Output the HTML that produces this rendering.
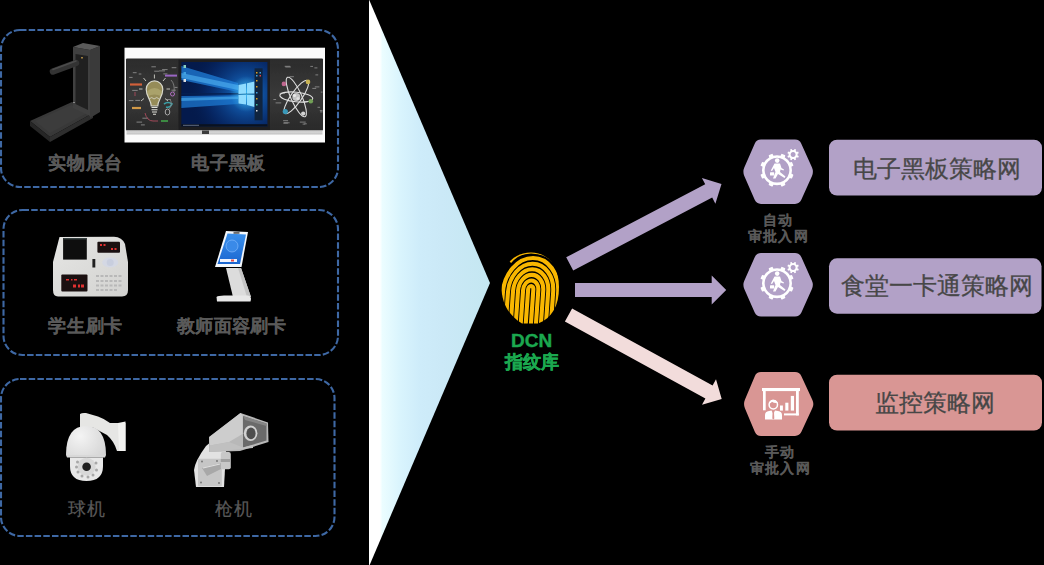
<!DOCTYPE html>
<html><head><meta charset="utf-8">
<style>
html,body{margin:0;padding:0;background:#000;}
body{width:1044px;height:565px;position:relative;overflow:hidden;font-family:"Liberation Sans",sans-serif;}
svg.main{position:absolute;left:0;top:0;}
.t{position:absolute;white-space:nowrap;line-height:1;}
.lbl{color:#595959;font-size:18px;font-weight:bold;letter-spacing:0.8px;-webkit-text-stroke:0.15px #595959;}
.sm{color:#595959;font-size:14px;font-weight:bold;text-align:center;letter-spacing:1.2px;-webkit-text-stroke:0.1px #595959;}
.big{color:#474747;font-size:24px;-webkit-text-stroke:0.3px #474747;}
.grn{color:#1ba84f;font-weight:bold;-webkit-text-stroke:0.4px #1ba84f;}
</style></head>
<body>
<svg class="main" width="1044" height="565" viewBox="0 0 1044 565">
<defs>
  <linearGradient id="tri" x1="369" y1="0" x2="490" y2="0" gradientUnits="userSpaceOnUse">
    <stop offset="0" stop-color="#ffffff"/>
    <stop offset="0.09" stop-color="#ffffff"/>
    <stop offset="0.11" stop-color="#ebfdff"/>
    <stop offset="0.26" stop-color="#d9f4fd"/>
    <stop offset="0.42" stop-color="#ceecfa"/>
    <stop offset="0.6" stop-color="#cbe9f7"/>
    <stop offset="1" stop-color="#c4e7f1"/>
  </linearGradient>

  <linearGradient id="chalk" x1="0" y1="0" x2="0" y2="1">
    <stop offset="0" stop-color="#2c2c2c"/>
    <stop offset="0.5" stop-color="#3a3a3a"/>
    <stop offset="1" stop-color="#2a2a2a"/>
  </linearGradient>
  <linearGradient id="silver" x1="0" y1="0" x2="0" y2="1">
    <stop offset="0" stop-color="#9a9a9a"/>
    <stop offset="0.4" stop-color="#d8d8d8"/>
    <stop offset="1" stop-color="#c0c0c0"/>
  </linearGradient>
  <radialGradient id="winglow" cx="246" cy="94" r="60" gradientUnits="userSpaceOnUse">
    <stop offset="0" stop-color="#2aa8f8" stop-opacity="0.9"/>
    <stop offset="0.3" stop-color="#1466c0" stop-opacity="0.65"/>
    <stop offset="0.65" stop-color="#0a3c8c" stop-opacity="0.35"/>
    <stop offset="1" stop-color="#04163e" stop-opacity="0"/>
  </radialGradient>
  <linearGradient id="readerg" x1="0" y1="0" x2="1" y2="1">
    <stop offset="0" stop-color="#e6e6e4"/>
    <stop offset="1" stop-color="#d2d2d0"/>
  </linearGradient>
  <radialGradient id="domeg" cx="80" cy="436" r="30" gradientUnits="userSpaceOnUse">
    <stop offset="0" stop-color="#f4f4f4"/>
    <stop offset="1" stop-color="#d4d4d4"/>
  </radialGradient>
  <clipPath id="clipL"><rect x="127" y="59.5" width="51.5" height="70.5"/></clipPath>
  <clipPath id="clipR"><rect x="270" y="59.5" width="52.5" height="70.5"/></clipPath>
  <radialGradient id="logoglow"><stop offset="0" stop-color="#50d0ff" stop-opacity="0.6"/><stop offset="1" stop-color="#50d0ff" stop-opacity="0"/></radialGradient>
  <linearGradient id="kscreen" x1="0" y1="0" x2="0" y2="1"><stop offset="0" stop-color="#3a90ec"/><stop offset="1" stop-color="#1a66d0"/></linearGradient>
</defs>
<!-- dashed boxes -->
<g fill="none" stroke="#3e68a4" stroke-width="2.1" stroke-dasharray="6.5 2.2">
  <rect x="1" y="30" width="337" height="157" rx="19" ry="19"/>
  <rect x="3.5" y="210" width="334.5" height="145" rx="19" ry="19"/>
  <rect x="1" y="379" width="333.5" height="157" rx="19" ry="19"/>
</g>
<!-- triangle -->
<polygon points="369,-0.5 490,283 369,566.5" fill="url(#tri)"/>
<!-- arrows -->
<polygon fill="#b2a1c7" points="573.2,270.5 712.2,197.5 715.4,203.7 721.5,184.1 701.9,178.0 705.2,184.2 566.2,257.3"/>
<polygon fill="#b2a1c7" points="575.0,297.0 711.7,297.0 711.7,304.5 726.2,290.0 711.7,275.5 711.7,283.0 575.0,283.0"/>
<polygon fill="#f2dcdb" points="564.9,321.6 705.4,398.6 702.0,404.7 721.7,399.0 716.0,379.3 712.6,385.5 572.1,308.4"/>
<!-- hexagons -->
<path fill="#b2a1c7" d="M754.7,143.7 Q756.5,139.6 761.0,139.6 L795.0,139.6 Q799.5,139.6 801.3,143.7 L812.0,167.6 Q813.8,171.8 812.0,175.9 L801.3,199.8 Q799.5,203.9 795.0,203.9 L761.0,203.9 Q756.5,203.9 754.7,199.8 L744.3,175.9 Q742.5,171.8 744.3,167.6 Z"/>
<path fill="#b2a1c7" d="M754.7,257.2 Q756.5,253.1 761.0,253.1 L795.0,253.1 Q799.5,253.1 801.4,257.2 L811.9,280.7 Q813.8,284.8 811.9,288.9 L801.4,312.4 Q799.5,316.5 795.0,316.5 L761.0,316.5 Q756.5,316.5 754.7,312.4 L744.3,288.9 Q742.5,284.8 744.3,280.7 Z"/>
<path fill="#d99694" d="M754.8,376.3 Q756.5,372.1 761.0,372.1 L795.0,372.1 Q799.5,372.1 801.4,376.2 L812.4,399.9 Q814.3,404.0 812.4,408.1 L801.4,431.8 Q799.5,435.9 795.0,435.9 L761.0,435.9 Q756.5,435.9 754.8,431.7 L744.9,408.2 Q743.2,404.0 744.9,399.8 Z"/>
<!-- rounded boxes -->
<rect x="829" y="139.7" width="213" height="55.8" rx="8" fill="#b2a1c7"/>
<rect x="829" y="258.3" width="212.5" height="55.4" rx="8" fill="#b2a1c7"/>
<rect x="829" y="374.7" width="213" height="55.8" rx="8" fill="#d99694"/>
<!-- ===== document camera ===== -->
<g id="doccam">
  <polygon points="30,121 72,102 93,113 50,137" fill="#383838"/>
  <polygon points="30,121 50,137 50,142 30,126" fill="#262626"/>
  <polygon points="50,137 93,113 93,118 50,142" fill="#2e2e2e"/>
  <polygon points="35,121 71,105 87,113 50,133" fill="#3c3c3c"/>
  <polygon points="73,47 90,50 90,116 73,108" fill="#404040"/>
  <polygon points="75.5,54 88,56 88,110 75.5,104" fill="#202020"/>
  <polygon points="90,50 100,46 100,112 90,118" fill="#3a3a3a"/>
  <polygon points="73,47 83,43 100,46 90,50" fill="#5a5a5a"/>
  <path d="M53,71.5 L76,63" stroke="#333" stroke-width="6.5" stroke-linecap="round"/>
  <path d="M53,69.5 L76,61" stroke="#4c4c4c" stroke-width="1.5" stroke-linecap="round"/>
  <rect x="81" y="57" width="2" height="1.5" fill="#a08040"/>
  <rect x="73" y="102" width="2" height="1" fill="#888"/>
</g>
<!-- ===== electronic blackboard ===== -->
<g id="board">
  <rect x="124.5" y="47.7" width="200.5" height="94.8" fill="#fbfbfb"/>
  <rect x="126" y="58.5" width="197" height="72" rx="1" fill="#2a2a2a"/>
  <rect x="127" y="59.5" width="51.5" height="70.5" fill="url(#chalk)"/>
  <rect x="270" y="59.5" width="52.5" height="70.5" fill="url(#chalk)"/>
  <rect x="126.5" y="130" width="196" height="4.5" fill="url(#silver)"/>
  <rect x="202" y="130.5" width="7" height="3.5" fill="#3a3a3a"/>
  <rect x="178.5" y="59.5" width="91.5" height="70.5" fill="#1e1e20"/>
  <rect x="181.4" y="62" width="86" height="64.4" fill="#041a4c"/>
  <rect x="181.4" y="62" width="86" height="64.4" fill="url(#winglow)"/>
  <!-- beams -->
  <polygon points="238,83 181.4,66 181.4,80 238,92" fill="#1f7ed8" opacity="0.75"/>
  <polygon points="238,85 181.4,73 181.4,78 238,90" fill="#52b4f4" opacity="0.6"/>
  <polygon points="238,95.5 181.4,96 181.4,108 238,104" fill="#1c78d0" opacity="0.75"/>
  <polygon points="238,96.5 181.4,98 181.4,101 238,99" fill="#4cb0f0" opacity="0.6"/>
  <rect x="181.4" y="93" width="73" height="1.6" fill="#062050" opacity="0.8"/>
  <ellipse cx="246.5" cy="94" rx="16" ry="18" fill="url(#logoglow)"/>
  <!-- logo -->
  <g fill="#8fdcff">
    <polygon points="238.5,85 246,83.5 246,93.5 238.5,94"/>
    <polygon points="247,83.3 254.5,81.5 254.5,93.4 247,93.5"/>
    <polygon points="238.5,95 246,95 246,104.5 238.5,103.5"/>
    <polygon points="247,95 254.5,95 254.5,107 247,105"/>
  </g>
  <!-- start menu -->
  <rect x="254.6" y="68.3" width="8" height="52" fill="#10243e"/>
  <g fill="#e0a020">
    <rect x="256" y="72" width="1.5" height="1.5"/><rect x="259.5" y="72" width="1.5" height="1.5" fill="#40a0e0"/>
    <rect x="256" y="75" width="1.5" height="1.5" fill="#40a0e0"/><rect x="259.5" y="75" width="1.5" height="1.5" fill="#e04040"/>
    <rect x="256" y="80" width="1.5" height="1.5"/><rect x="256" y="86" width="1.5" height="1.5"/>
    <rect x="256" y="92" width="1.5" height="1.5" fill="#40a0e0"/><rect x="256" y="98" width="1.5" height="1.5"/>
    <rect x="256" y="104" width="1.5" height="1.5" fill="#40c0a0"/><rect x="256" y="110" width="1.5" height="1.5" fill="#e0e0e0"/>
  </g>
  <!-- desktop icons -->
  <rect x="183.5" y="65" width="2.5" height="3" fill="#8ad0c0"/>
  <rect x="183.5" y="72" width="2.5" height="3" fill="#40a0e0"/>
  <rect x="183.5" y="79" width="2.5" height="3" fill="#e0e0e0"/>
  <!-- taskbar -->
  <rect x="181.4" y="124.2" width="86" height="2.2" fill="#0a1220"/>
  <rect x="183" y="124.8" width="16" height="1" fill="#606a80"/>
  <!-- bulb drawing -->
  <g stroke="#a4a4a4" stroke-width="0.8" opacity="0.9" clip-path="url(#clipL)"><path d="M132.8,72.7 h3.8 M138.7,74.0 h2.7 M129.2,77.4 h3.4 M163.3,73.9 h4.1 M171.7,67.7 h4.7 M162.1,69.6 h5.5 M135.3,100.4 h4.8 M128.9,100.6 h4.6 M132.2,90.4 h5.5 M136.5,122.1 h5.6 M140.9,124.9 h3.9 M142.4,118.2 h5.8 M174.5,87.4 h3.0 M166.6,99.5 h4.0 M171.5,90.2 h4.3 M151.4,66.8 h4.5 M154.2,71.2 h4.9 M159.0,70.9 h6.0"/></g>
  <path d="M151.2,106 C151.2,100 146.2,96.5 146.2,89.2 A8.3,8.3 0 0 1 162.8,89.2 C162.8,96.5 157.8,100 157.8,106 Z" fill="#968c58" stroke="#d8d8cc" stroke-width="1.2"/>
  <path d="M147.5,91 Q154.5,85 161.5,91 L161,96 Q154.5,93 148,96 Z" fill="#b8b078" opacity="0.6"/><path d="M149,99 q3,-3 5,0 q3,-3 5,0" stroke="#d8d8cc" stroke-width="0.8" fill="none"/>
  <path d="M151.5,107.5 H157.5 M151.5,109.8 H157.5 M152,112 H157 M153,114.3 H156" stroke="#e0e0d8" stroke-width="1.1"/>
  <g stroke="#d0d0c8" stroke-width="1" opacity="0.9">
    <path d="M154.4,78.5 V74.5 M146,81 L143.5,78 M163,81 L165.5,78 M142.5,89 H139 M166.5,89 H170 M144,98.5 L141,101 M165,98.5 L168,101"/>
  </g>
  <g fill="none">
    <path d="M130,84.5 h12" stroke="#d2603a" stroke-width="2.2"/>
    <path d="M165,75.6 h12" stroke="#9a66c4" stroke-width="2"/>
    <path d="M132,108 h9" stroke="#d29a48" stroke-width="2.2"/>
    <circle cx="172.5" cy="94" r="2" stroke="#b070c0" stroke-width="1"/>
    <path d="M164,104 q4,-3 8,0 q-2,4 -6,3" stroke="#3aa0a8" stroke-width="1.6"/>
    <ellipse cx="167.5" cy="112" rx="2.3" ry="3" stroke="#a8a8a8" stroke-width="1"/>
    <path d="M161,121 h7" stroke="#40a048" stroke-width="1.6"/>
    <path d="M135,92 v4 M145,113 q2,8 8,8 h5" stroke="#a04858" stroke-width="1"/>
    <path d="M171,80 q4,4 3,12 M170,99 q3,6 -1,10" stroke="#8a8a8a" stroke-width="0.8"/>
  </g>
  <!-- atom drawing -->
  <g stroke="#a0a0a0" stroke-width="0.8" opacity="0.9" clip-path="url(#clipR)"><path d="M284.7,66.3 h5.5 M289.4,76.7 h4.5 M285.4,67.0 h5.4 M310.3,66.4 h2.7 M315.4,74.9 h2.8 M314.4,67.9 h3.0 M275.6,102.9 h5.6 M273.4,99.5 h2.7 M279.5,93.3 h5.6 M320.8,92.1 h6.0 M314.8,86.9 h4.6 M312.3,88.4 h3.9 M317.5,107.3 h2.6 M319.8,110.6 h5.9 M320.1,111.9 h4.1 M283.3,123.1 h4.6 M283.8,122.8 h5.8 M283.1,120.7 h5.0 M299.8,122.1 h5.9 M304.3,123.8 h2.5 M302.6,124.1 h2.6"/></g>
  <g fill="none" stroke="#dedede" stroke-width="1.1">
    <ellipse cx="296.3" cy="97" rx="16.5" ry="4.8" transform="rotate(6 296.3 97)"/>
    <ellipse cx="296.3" cy="97" rx="21.5" ry="5.5" transform="rotate(66 296.3 97)"/>
    <ellipse cx="296.3" cy="97" rx="20" ry="5.5" transform="rotate(-55 296.3 97)"/>
  </g>
  <circle cx="296.3" cy="97" r="4" fill="#c4c4c4"/>
  <circle cx="294.5" cy="95.5" r="1.6" fill="#e8e8e8"/><circle cx="298" cy="98.5" r="1.6" fill="#e0e0e0"/>
  <circle cx="283.9" cy="83.9" r="2.3" fill="#c06890"/>
  <circle cx="308" cy="81.9" r="2.3" fill="#cab454"/>
  <circle cx="310.8" cy="101.2" r="2.3" fill="#72a056"/>
  <circle cx="285.3" cy="111.6" r="2.6" fill="#3a98b8"/>
  <circle cx="303.2" cy="113.6" r="2.1" fill="#d4d4d4"/>
</g>
<!-- ===== card reader ===== -->
<g id="reader">
  <path d="M59.5,237 L114,236.8 Q122,237 125,244 L128,262 L128,290 Q128,296.5 122,296.5 L58,296.5 Q53,296.5 53,290 L53,262 Z" fill="url(#readerg)"/>
  <rect x="63.1" y="238" width="23.7" height="21.6" fill="#0e0e0e"/><rect x="63.5" y="238.3" width="23" height="1" fill="#4a5a5a"/>
  
  <rect x="97.4" y="241.7" width="22.6" height="11" rx="1" fill="#1a1010"/>
  <rect x="61.3" y="274.6" width="26.2" height="17" rx="1" fill="#1a1010"/>
  <g fill="#e03030">
    <rect x="100" y="244" width="2" height="2"/><rect x="103.5" y="244" width="2" height="2"/>
    <rect x="111" y="248" width="2" height="2"/><rect x="114.5" y="248" width="2" height="2"/>
    <rect x="66" y="279" width="3" height="1.5"/><rect x="71" y="279" width="1.5" height="1.5"/><rect x="74" y="279" width="3" height="1.5"/>
    <rect x="73" y="284.5" width="3" height="3"/><rect x="78" y="284.5" width="2" height="3"/><rect x="81" y="284.5" width="3" height="3"/>
  </g>
  <rect x="92.4" y="259" width="2.9" height="8.5" fill="#202020"/>
  <ellipse cx="110.2" cy="262.5" rx="8" ry="5" fill="#d4d8e4"/>
  <ellipse cx="110.2" cy="262.5" rx="3.5" ry="3.5" fill="#c8cede"/>
  <g fill="#b8b8b8">
    <rect x="96" y="275" width="3" height="2"/><rect x="100.5" y="275" width="3" height="2"/><rect x="105" y="275" width="3" height="2"/><rect x="109.5" y="275" width="3" height="2"/><rect x="114" y="275" width="3" height="2"/><rect x="118.5" y="275" width="3" height="2"/>
    <rect x="96" y="280" width="3" height="2"/><rect x="100.5" y="280" width="3" height="2"/><rect x="105" y="280" width="3" height="2"/><rect x="109.5" y="280" width="3" height="2"/><rect x="114" y="280" width="3" height="2"/><rect x="118.5" y="280" width="3" height="2"/>
    <rect x="96" y="284.5" width="3" height="2"/><rect x="100.5" y="284.5" width="3" height="2"/><rect x="105" y="284.5" width="3" height="2"/><rect x="109.5" y="284.5" width="3" height="2"/><rect x="114" y="284.5" width="3" height="2"/><rect x="118.5" y="284.5" width="3" height="2"/>
    <rect x="96" y="289" width="3" height="2"/><rect x="100.5" y="289" width="3" height="2"/><rect x="105" y="289" width="3" height="2"/><rect x="109.5" y="289" width="3" height="2"/><rect x="114" y="289" width="3" height="2"/>
  </g>
</g>
<!-- ===== kiosk ===== -->
<g id="kiosk">
  <path d="M226,268 L241,268 L251,297 L233,297 Z" fill="#dcdcdc"/>
  <path d="M238,268 L241,268 L251,297 L247,297 Z" fill="#c4c4c4"/>
  <path d="M216.5,297 Q218,295.5 224,295.5 L248,295.5 Q251,296 251,299 L250.5,301.5 L217,301.5 Z" fill="#e8e8e8"/>
  <polygon points="226,231 248,232 241.5,267 215,267" fill="#f4f8fc"/>
  <polygon points="227.5,233.5 246,234.5 240,264 217.5,264" fill="url(#kscreen)"/>
  <circle cx="232" cy="246" r="6" fill="#3a8ae8" stroke="#8cc0ff" stroke-width="0.6"/>
  <rect x="220" y="259" width="17" height="3" fill="#f0f4ff"/><rect x="231" y="259.5" width="3" height="2" fill="#e04848"/>
  <rect x="233.5" y="232.3" width="6" height="1.3" fill="#303030"/>
</g>
<!-- ===== dome camera ===== -->
<g id="dome">
  <path d="M80,428 L80,414 Q82,412.5 86,413 L98,416.5 Q105,419 110,423 L125.5,423 L125.5,451 L117,451 Q114,441 107,435 L92,427 Z" fill="#e6e6e4"/>
  <path d="M118,423 L125.5,421.5 L125.5,451 L119,451 Z" fill="#f2f2f0"/>
  <path d="M66,455 Q66,426 86,426 Q106,426 106,455 Z" fill="url(#domeg)"/>
  <path d="M66,455 H106 L105,457.5 H67 Z" fill="#d8d8d8"/>
  <path d="M70,457.5 H103 L103,466 Q103,481 86.5,481 Q70,481 70,466 Z" fill="#e8e8e8"/>
  <circle cx="86.6" cy="466.7" r="9" fill="#d8d8d8"/>
  <circle cx="86.6" cy="466.7" r="4.3" fill="#202020"/>
  <g fill="#a8a8a8">
    <circle cx="77.5" cy="462" r="1.5"/><circle cx="76.5" cy="467" r="1.5"/><circle cx="78" cy="472" r="1.5"/><circle cx="82" cy="476" r="1.5"/><circle cx="88" cy="477" r="1.5"/><circle cx="93" cy="475" r="1.5"/><circle cx="96.5" cy="470" r="1.5"/><circle cx="96" cy="463" r="1.5"/>
  </g>
</g>
<!-- ===== bullet camera ===== -->
<g id="bullet">
  <path d="M196,487 L194,470 Q195,461 206,446 L212,441 L226,451 L224,487 Z" fill="#e2e2e2"/>
  <rect x="198" y="458.7" width="23.8" height="27.6" rx="1" fill="#c6c6c6"/>
  <path d="M202,468 L221,463 L221,469 L207,476 Z" fill="#a8a8a8"/>
  <path d="M203,468 L220,464" stroke="#e0e0e0" stroke-width="1.2"/>
  <g fill="#707070"><circle cx="202" cy="461.5" r="0.9"/><circle cx="217" cy="461" r="0.9"/><circle cx="201" cy="482.5" r="0.9"/><circle cx="219" cy="483" r="0.9"/></g>
  <rect x="220.8" y="452" width="10" height="17.3" rx="2" fill="#c8c8c8"/>
  <rect x="220.8" y="459" width="10" height="3" fill="#a0a0a0"/>
  <polygon points="209,437 240.5,413 268,422.5 268.5,442 240,451 209,452" fill="#b8b8b8"/>
  <polygon points="209.5,437 240.5,413 242.5,415 242.5,434 229,442 210,445.5" fill="#cdcdcd"/>
  <polygon points="243,416 266.5,423.5 266.5,440.5 243,447.5" fill="#6a6a6a"/>
  <polygon points="243,416 266.5,423.5 266.5,426 245,420" fill="#858585"/>
  <polygon points="210,445.5 229,442 243,447.5 253,445 253,448 210,452" fill="#c0c0c0"/>
  <ellipse cx="250.6" cy="433.2" rx="6.8" ry="7.8" fill="#d2d2d2"/>
  <ellipse cx="251" cy="433.4" rx="4.6" ry="5.8" fill="#4e4e4e"/>
</g>
<!-- ===== fingerprint ===== -->
<g id="fp">
  <clipPath id="fpclip"><path d="M531,252.5 C548,252.5 559,266 559,287 C559,306 552,318 538,323.5 L522,323.5 C509,316 501.5,303 501.5,287 C501.5,266 513,252.5 531,252.5 Z"/></clipPath>
  <g clip-path="url(#fpclip)" fill="none" stroke="#f9b700" stroke-width="4.1">
    <g transform="translate(530 300) skewX(-4) translate(-530 -300)">
    <path d="M527.4,330 L527.4,289.2 A2.6,3.2 0 0 1 532.6,289.2 L532.6,330"/>
    <path d="M522.4,330 L522.4,289.9 A7.6,9.5 0 0 1 537.6,289.9 L537.6,330"/>
    <path d="M517.4,330 L517.4,290.6 A12.6,15.8 0 0 1 542.6,290.6 L542.6,330"/>
    <path d="M512.4,330 L512.4,291.2 A17.6,22.0 0 0 1 547.6,291.2 L547.6,330"/>
    <path d="M507.4,330 L507.4,291.9 A22.6,28.2 0 0 1 552.6,291.9 L552.6,330"/>
    <path d="M502.4,330 L502.4,292.5 A27.6,34.5 0 0 1 557.6,292.5 L557.6,330"/>
    <path d="M495,300 L495,280"/>
    </g>
    <path d="M510,262 C515,256 522,252 531,252 C541,252 549,256 554,262" stroke-width="3"/>
    <path d="M498,270 L498,330 M562,270 L562,330" stroke-width="4"/>
  </g>
</g>
<!-- ===== gear icons ===== -->
<g id="gearicon" fill="#fff">
  <path fill-rule="evenodd" d="M777,155.2 A15,15 0 1 1 776.99,155.2 Z M777,157.8 A12.4,12.4 0 1 0 777.01,157.8 Z"/>
  <g>
    <rect x="774.8" y="153.2" width="4.4" height="3.5" rx="0.8" transform="rotate(22.5 777 170.2)"/>
    <rect x="774.8" y="153.2" width="4.4" height="3.5" rx="0.8" transform="rotate(67.5 777 170.2)"/>
    <rect x="774.8" y="153.2" width="4.4" height="3.5" rx="0.8" transform="rotate(112.5 777 170.2)"/>
    <rect x="774.8" y="153.2" width="4.4" height="3.5" rx="0.8" transform="rotate(157.5 777 170.2)"/>
    <rect x="774.8" y="153.2" width="4.4" height="3.5" rx="0.8" transform="rotate(202.5 777 170.2)"/>
    <rect x="774.8" y="153.2" width="4.4" height="3.5" rx="0.8" transform="rotate(247.5 777 170.2)"/>
    <rect x="774.8" y="153.2" width="4.4" height="3.5" rx="0.8" transform="rotate(292.5 777 170.2)"/>
    <rect x="774.8" y="153.2" width="4.4" height="3.5" rx="0.8" transform="rotate(337.5 777 170.2)"/>
  </g>
  <path fill-rule="evenodd" d="M793.1,150.1 A4.5,4.5 0 1 1 793.09,150.1 Z M793.1,152.1 A2.5,2.5 0 1 0 793.11,152.1 Z"/>
  <g>
    <rect x="792.2" y="148.8" width="1.8" height="2" transform="rotate(22.5 793.1 154.6)"/>
    <rect x="792.2" y="148.8" width="1.8" height="2" transform="rotate(67.5 793.1 154.6)"/>
    <rect x="792.2" y="148.8" width="1.8" height="2" transform="rotate(112.5 793.1 154.6)"/>
    <rect x="792.2" y="148.8" width="1.8" height="2" transform="rotate(157.5 793.1 154.6)"/>
    <rect x="792.2" y="148.8" width="1.8" height="2" transform="rotate(202.5 793.1 154.6)"/>
    <rect x="792.2" y="148.8" width="1.8" height="2" transform="rotate(247.5 793.1 154.6)"/>
    <rect x="792.2" y="148.8" width="1.8" height="2" transform="rotate(292.5 793.1 154.6)"/>
    <rect x="792.2" y="148.8" width="1.8" height="2" transform="rotate(337.5 793.1 154.6)"/>
  </g>
  <!-- person -->
  <circle cx="777.2" cy="160.6" r="2.3"/>
  <path d="M774.5,163.5 L780,163.5 L781.5,168 L784,169.5 L783.5,170.5 L780.5,169.5 L780,172 L785.5,176.5 L784.5,178 L778,174 L775.5,178.5 L773,178.5 L775.5,172 L774,168 L772,171 L770.8,170.5 Z"/>
  <rect x="770" y="172.3" width="4.2" height="3.3" rx="0.5"/>
</g>

<g transform="translate(0,113)" fill="#fff">
  <path fill-rule="evenodd" d="M777,155.2 A15,15 0 1 1 776.99,155.2 Z M777,157.8 A12.4,12.4 0 1 0 777.01,157.8 Z"/>
  <g>
    <rect x="774.8" y="153.2" width="4.4" height="3.5" rx="0.8" transform="rotate(22.5 777 170.2)"/>
    <rect x="774.8" y="153.2" width="4.4" height="3.5" rx="0.8" transform="rotate(67.5 777 170.2)"/>
    <rect x="774.8" y="153.2" width="4.4" height="3.5" rx="0.8" transform="rotate(112.5 777 170.2)"/>
    <rect x="774.8" y="153.2" width="4.4" height="3.5" rx="0.8" transform="rotate(157.5 777 170.2)"/>
    <rect x="774.8" y="153.2" width="4.4" height="3.5" rx="0.8" transform="rotate(202.5 777 170.2)"/>
    <rect x="774.8" y="153.2" width="4.4" height="3.5" rx="0.8" transform="rotate(247.5 777 170.2)"/>
    <rect x="774.8" y="153.2" width="4.4" height="3.5" rx="0.8" transform="rotate(292.5 777 170.2)"/>
    <rect x="774.8" y="153.2" width="4.4" height="3.5" rx="0.8" transform="rotate(337.5 777 170.2)"/>
  </g>
  <path fill-rule="evenodd" d="M793.1,150.1 A4.5,4.5 0 1 1 793.09,150.1 Z M793.1,152.1 A2.5,2.5 0 1 0 793.11,152.1 Z"/>
  <g>
    <rect x="792.2" y="148.8" width="1.8" height="2" transform="rotate(22.5 793.1 154.6)"/>
    <rect x="792.2" y="148.8" width="1.8" height="2" transform="rotate(67.5 793.1 154.6)"/>
    <rect x="792.2" y="148.8" width="1.8" height="2" transform="rotate(112.5 793.1 154.6)"/>
    <rect x="792.2" y="148.8" width="1.8" height="2" transform="rotate(157.5 793.1 154.6)"/>
    <rect x="792.2" y="148.8" width="1.8" height="2" transform="rotate(202.5 793.1 154.6)"/>
    <rect x="792.2" y="148.8" width="1.8" height="2" transform="rotate(247.5 793.1 154.6)"/>
    <rect x="792.2" y="148.8" width="1.8" height="2" transform="rotate(292.5 793.1 154.6)"/>
    <rect x="792.2" y="148.8" width="1.8" height="2" transform="rotate(337.5 793.1 154.6)"/>
  </g>
  <!-- person -->
  <circle cx="777.2" cy="160.6" r="2.3"/>
  <path d="M774.5,163.5 L780,163.5 L781.5,168 L784,169.5 L783.5,170.5 L780.5,169.5 L780,172 L785.5,176.5 L784.5,178 L778,174 L775.5,178.5 L773,178.5 L775.5,172 L774,168 L772,171 L770.8,170.5 Z"/>
  <rect x="770" y="172.3" width="4.2" height="3.3" rx="0.5"/>
</g>
<!-- ===== presentation icon ===== -->
<g id="pres" fill="#fff">
  <rect x="762" y="388" width="38" height="3.1"/>
  <rect x="763" y="391" width="2.7" height="19.3"/>
  <rect x="796" y="391" width="2.8" height="24.4"/>
  <rect x="784" y="413.4" width="14.8" height="2"/>
  <rect x="780" y="405.5" width="2.9" height="5.1"/>
  <rect x="785.3" y="402.7" width="3.1" height="7.9"/>
  <rect x="790.8" y="395.9" width="3.2" height="14.7"/>
  <circle cx="773.3" cy="404.7" r="4.2" fill="none" stroke="#fff" stroke-width="1.5"/>
  <path d="M769,403.5 Q770,399.5 773.3,399.8 Q777,400 777.8,403 Q774,403.5 772,401.8 Q771,403.5 769,403.5 Z"/>
  <path d="M765,419.4 L765,415 Q765,411.5 769,411 L771.5,410.5 L773.3,414 L775,410.5 L778,411 Q782,411.5 782,415 L782,419.4 Z"/>
  <path d="M772.6,412 L774,412 L774.3,418.5 L773.3,419.4 L772.3,418.5 Z" fill="#d99694"/>
</g>
</svg>

<div class="t lbl" style="left:48px;top:154px;">实物展台</div>
<div class="t lbl" style="left:191px;top:154px;">电子黑板</div>
<div class="t lbl" style="left:48px;top:317px;">学生刷卡</div>
<div class="t lbl" style="left:177px;top:317px;letter-spacing:0.3px;">教师面容刷卡</div>
<div class="t lbl" style="left:68px;top:500px;font-weight:normal;-webkit-text-stroke:0.2px #595959;">球机</div>
<div class="t lbl" style="left:215px;top:500px;font-weight:normal;-webkit-text-stroke:0.2px #595959;">枪机</div>

<div class="t grn" style="left:511px;top:331px;font-size:19px;">DCN</div>
<div class="t grn" style="left:505px;top:353px;font-size:18px;">指纹库</div>

<div class="t sm" style="left:748px;top:212px;width:60px;line-height:16px;">自动<br>审批入网</div>
<div class="t sm" style="left:750px;top:444px;width:60px;line-height:16px;">手动<br>审批入网</div>

<div class="t big" style="left:853px;top:157px;">电子黑板策略网</div>
<div class="t big" style="left:841px;top:274px;">食堂一卡通策略网</div>
<div class="t big" style="left:875px;top:391px;">监控策略网</div>
</body></html>
